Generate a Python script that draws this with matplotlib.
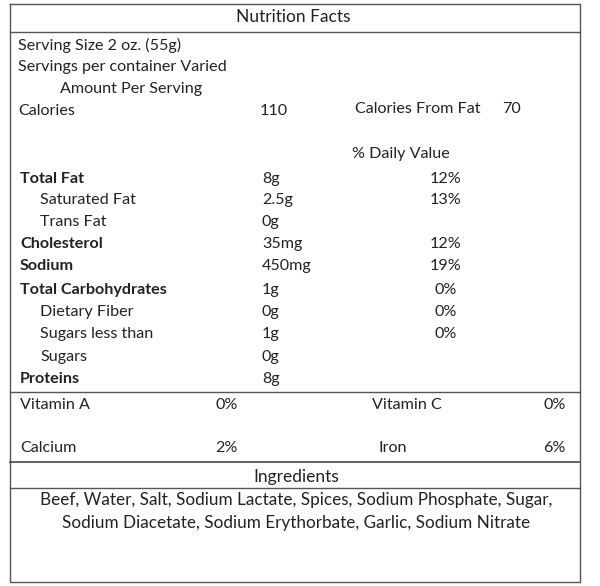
import matplotlib
matplotlib.use("Agg")
import matplotlib.pyplot as plt

title = "Nutrition Facts"
header_lines = ["Serving Size 2 oz. (55g)", "Servings per container Varied"]
amount_label = "Amount Per Serving"
calories = "110"
cal_fat_label = "Calories From Fat"
cal_fat = "70"
dv_label = "% Daily Value"
names = ["Total Fat", "Saturated Fat", "Trans Fat", "Cholesterol", "Sodium",
         "Total Carbohydrates", "Dietary Fiber", "Sugars less than", "Sugars", "Proteins"]
amounts = ["8g", "2.5g", "0g", "35mg", "450mg", "1g", "0g", "1g", "0g", "8g"]
daily = ["12%", "13%", "", "12%", "19%", "0%", "0%", "0%", "", ""]
bold = [True, False, False, True, True, True, False, False, False, True]
vitamins = [("Vitamin A", "0%", "Vitamin C", "0%"), ("Calcium", "2%", "Iron", "6%")]
ingredients_title = "Ingredients"
ingredients = ["Beef, Water, Salt, Sodium Lactate, Spices, Sodium Phosphate, Sugar,",
               "Sodium Diacetate, Sodium Erythorbate, Garlic, Sodium Nitrate"]

plt.rcParams['font.family'] = ['Lato', 'DejaVu Sans']
fig = plt.figure(figsize=(6, 5.86), dpi=100)
ax = fig.add_axes([0, 0, 1, 1])
ax.set_xlim(0, 600); ax.set_ylim(586, 0); ax.axis('off')
fs = 11.6
c = '#222222'
def t(x, y, s, **k):
    k.setdefault('fontsize', fs)
    ax.text(x, y, s, va='center', color=c, **k)

L, R = 10, 580
ax.plot([L, R, R, L, L], [4, 4, 582, 582, 4], color='#555', lw=1)
for y in [32, 392, 462, 488]:
    ax.plot([L, R], [y, y], color='#555', lw=1.3 if y == 462 else 1)

t(293, 17, title, ha='center', fontsize=12.5)
t(18, 45, header_lines[0]); t(18, 67, header_lines[1])
t(60, 89, amount_label)
t(18, 111, "Calories"); t(260, 111, calories)
t(355, 109, cal_fat_label); t(502, 109, cal_fat)
t(352, 154, dv_label)
ys = [179, 200, 222, 244, 266, 290, 312, 334, 357, 379]
for n, a, d, b, y in zip(names, amounts, daily, bold, ys):
    t(20 if b else 40, y, n, fontweight='bold' if b else 'normal')
    t(262, y, a)
    if d:
        t(446, y, d, ha='center')
for (n1, v1, n2, v2), y in zip(vitamins, [405, 448]):
    t(20, y, n1); t(215, y, v1); t(n2 == "Iron" and 378 or 372, y, n2); t(566, y, v2, ha='right')
t(296, 477, ingredients_title, ha='center', fontsize=12.5)
t(296, 500, ingredients[0], ha='center', fontsize=12.3)
t(296, 523, ingredients[1], ha='center', fontsize=12.3)
fig.savefig("out.png", dpi=100)
